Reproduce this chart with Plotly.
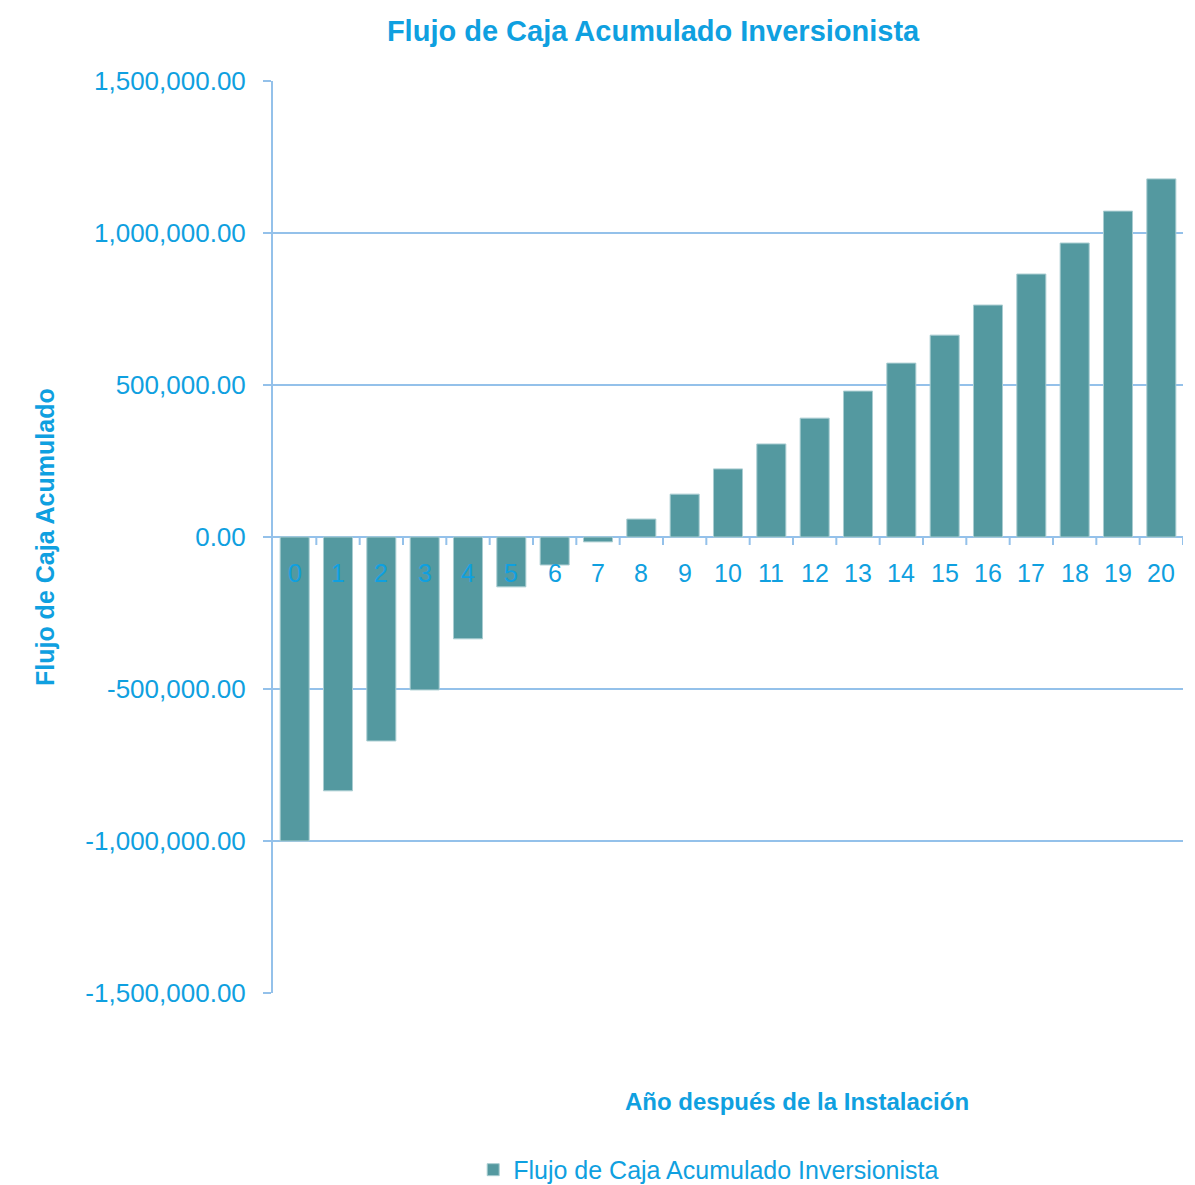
import plotly.graph_objects as go

years = list(range(21))
year_labels = [str(y) for y in years]
cumulative_flow = [-1000000, -835000, -671000, -503000, -335000, -164000, -92000, -16000,
                   59000, 141000, 224000, 306000, 391000, 480000, 572000, 664000,
                   763000, 865000, 967000, 1072000, 1178000]

y_tick_vals = [-1500000, -1000000, -500000, 0, 500000, 1000000, 1500000]
y_tick_text = ["-1,500,000.00", "-1,000,000.00", "-500,000.00", "0.00",
               "500,000.00", "1,000,000.00", "1,500,000.00"]

title_text = "Flujo de Caja Acumulado Inversionista"
series_name = "Flujo de Caja Acumulado Inversionista"
y_title = "Flujo de Caja Acumulado"
x_title = "Año después de la Instalación"

TXT = "#0fa0e0"
BAR = "#5499a0"
GRID = "#94c1ea"
FONT = "Liberation Sans, Arial, sans-serif"

fig = go.Figure()
fig.add_trace(go.Bar(x=years, y=cumulative_flow, name=series_name,
                     marker=dict(color=BAR, line=dict(color="#a9cdd1", width=1))))

# category tick labels drawn at the zero line
for x, lab in zip(years, year_labels):
    fig.add_annotation(x=x, y=0, xref="x", yref="y", text=lab, showarrow=False,
                       yanchor="middle", yshift=-36,
                       font=dict(family=FONT, size=25, color=TXT))
# tick marks at category boundaries below the zero line
for x in years:
    fig.add_shape(type="line", xref="x", yref="y", x0=x + 0.5, x1=x + 0.5,
                  ysizemode="pixel", yanchor=0, y0=0, y1=-8,
                  line=dict(color=GRID, width=2))

fig.add_annotation(text=y_title, xref="paper", yref="paper", x=-0.2505, y=0.5,
                   textangle=-90, showarrow=False, xanchor="center", yanchor="middle",
                   font=dict(family=FONT, size=25, color=TXT, weight="bold"))
fig.add_annotation(text=x_title, xref="paper", yref="paper", x=0.576, y=-0.1195,
                   showarrow=False, xanchor="center", yanchor="middle",
                   font=dict(family=FONT, size=24, color=TXT, weight="bold"))

fig.update_layout(
    width=1195, height=1185,
    margin=dict(l=273, r=12, t=81, b=192, autoexpand=False),
    paper_bgcolor="white", plot_bgcolor="white",
    title=dict(text=title_text, x=0.5465, xanchor="center", y=1 - 31 / 1185, yanchor="middle",
               font=dict(family=FONT, size=29, color=TXT, weight="bold")),
    showlegend=True,
    legend=dict(orientation="h", x=0.22, xanchor="left", y=-0.194, yanchor="middle",
                font=dict(family=FONT, size=25, color=TXT), itemwidth=30),
    bargap=0.33,
    font=dict(family=FONT, color=TXT),
)
fig.update_xaxes(range=[-0.5, 20.5], showticklabels=False, showgrid=False, zeroline=False,
                 showline=False, ticks="")
fig.update_yaxes(range=[-1500000, 1500000], tickvals=y_tick_vals, ticktext=y_tick_text,
                 showgrid=True, gridcolor=GRID, gridwidth=2, zeroline=True, zerolinecolor=GRID,
                 zerolinewidth=2, showline=True, linecolor=GRID, linewidth=2,
                 ticks="outside", ticklen=8, tickcolor=GRID, tickwidth=2,
                 ticklabelstandoff=12,
                 tickfont=dict(family=FONT, size=26, color=TXT))

fig.write_html("out.html")
